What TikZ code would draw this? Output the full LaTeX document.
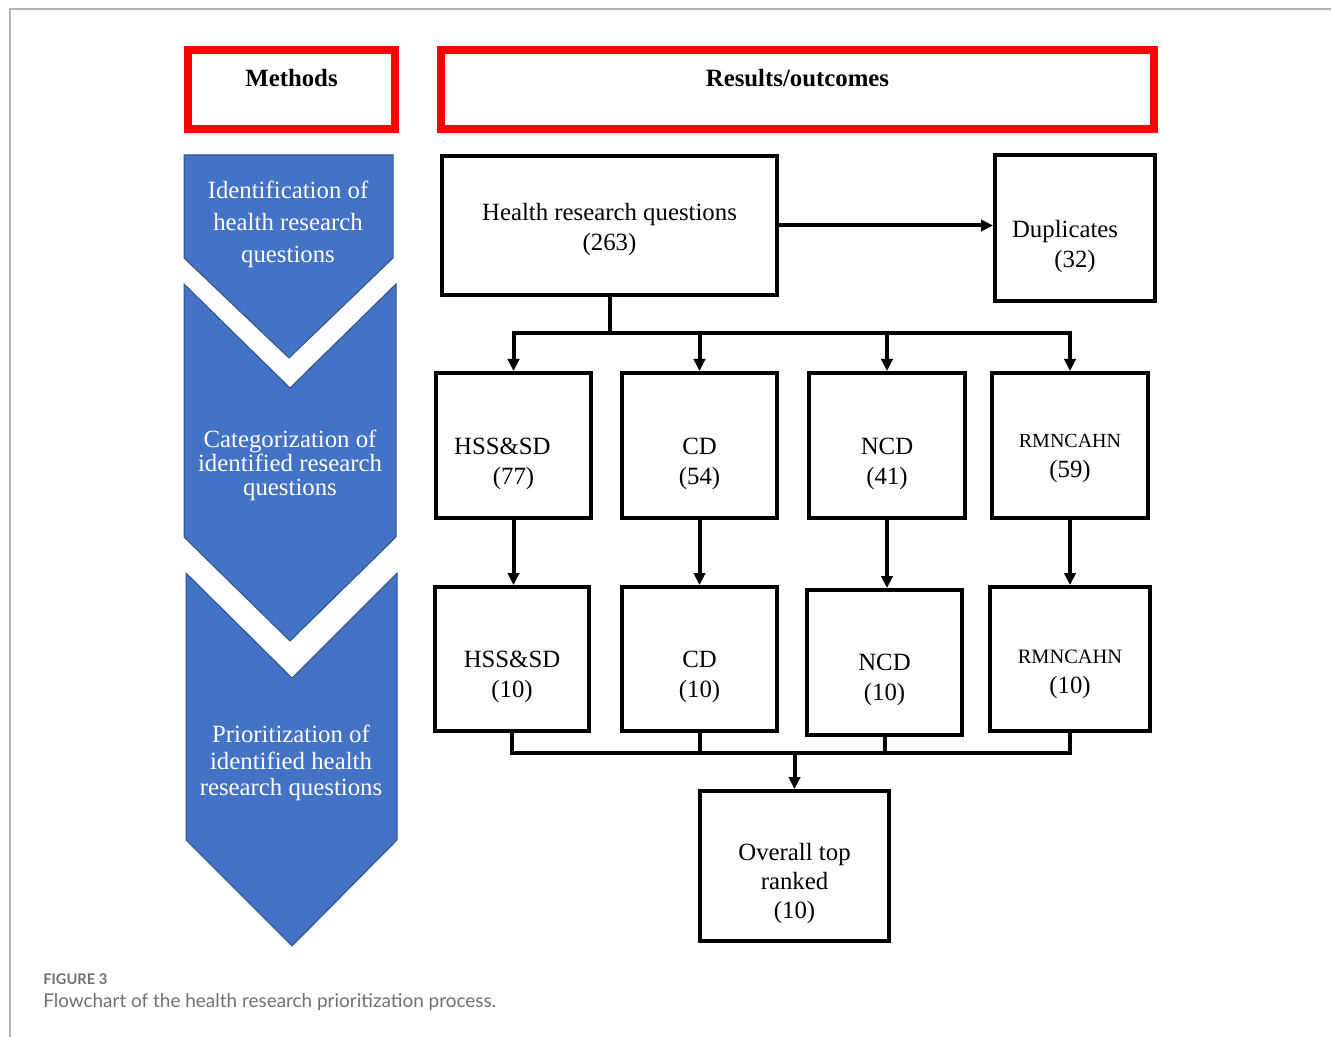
\documentclass[tikz,border=0pt]{standalone}
\usepackage{fontspec}
\setmainfont{Liberation Serif}
\newfontfamily\capfont{Lato}
\usetikzlibrary{arrows.meta}
\newlength\px \setlength\px{0.75pt}
\definecolor{chevblue}{HTML}{4472C4}
\definecolor{chevline}{HTML}{2F528F}
\definecolor{framegray}{HTML}{B3B3B3}
\definecolor{capgray}{HTML}{707070}
\tikzset{
  hdrbox/.style={draw=red, line width=8\px, minimum height=79\px},
  hdrtxt/.style={font=\bfseries\fontsize{18.6pt}{22.5pt}\selectfont, yshift=11.5\px},
  qbox/.style={draw, line width=4\px, minimum width=155\px, minimum height=145\px},
  qtxt/.style={align=center, font=\fontsize{18.6pt}{22.5pt}\selectfont, yshift=-18\px},
  stage/.style={fill=chevblue, draw=chevline, line width=1\px},
  stagetxt/.style={align=center, text=white},
  link/.style={line width=4\px},
  arr/.style={link, -{Triangle[length=9pt,width=8.5pt]}}
}
\begin{document}
\begin{tikzpicture}[x=0.75pt, y=-0.75pt]
\useasboundingbox (0,0) rectangle (1331,1037);
\draw[framegray, line width=2\px] (10,1037) -- (10,9) -- (1331,9);

\node[hdrbox, minimum width=207\px, label={[hdrtxt]center:Methods}] (methods) at (291.5,89.5) {};
\node[hdrbox, minimum width=713\px, label={[hdrtxt]center:Results/outcomes}] (results) at (797.5,89.5) {};

\draw[stage] (184,155) -- (393,155) -- (393,258) -- (289,358) -- (184,258) -- cycle;
\draw[stage] (184,284) -- (290,388) -- (396,284) -- (396,537) -- (290,641) -- (184,537) -- cycle;
\draw[stage] (186,573) -- (292,678) -- (397,573) -- (397,840) -- (292,946) -- (186,840) -- cycle;
\node[stagetxt, font=\fontsize{18.6pt}{24pt}\selectfont] (stage1) at (288,224) {Identification of\\health research\\questions};
\node[stagetxt, font=\fontsize{18.6pt}{18pt}\selectfont] (stage2) at (290,465) {Categorization of\\identified research\\questions};
\node[stagetxt, font=\fontsize{18.6pt}{20pt}\selectfont] (stage3) at (291,763) {Prioritization of\\identified health\\research questions};

\node[qbox, minimum width=335\px, minimum height=139\px, label={[qtxt, yshift=13.5\px]center:Health research questions\\(263)}] (hrq) at (609.5,225.5) {};
\node[qbox, minimum width=160\px, minimum height=146\px, label={[qtxt, yshift=-0.5\px]center:Duplicates\hspace*{0.8em}\\(32)}] (dup) at (1075,228) {};

\node[qbox, label={[qtxt]center:HSS\&SD\hspace*{0.9em}\\(77)}] (c1) at (513.5,445.5) {};
\node[qbox, label={[qtxt]center:CD\\(54)}] (c2) at (699.5,445.5) {};
\node[qbox, minimum width=156\px, label={[qtxt]center:NCD\\(41)}] (c3) at (887,445.5) {};
\node[qbox, minimum width=156\px, label={[qtxt, yshift=4.5\px]center:{\fontsize{15pt}{18pt}\selectfont RMNCAHN}\\(59)}] (c4) at (1070,445.5) {};

\node[qbox, minimum width=154\px, minimum height=144\px, label={[qtxt]center:HSS\&SD\\(10)}] (t1) at (512,659) {};
\node[qbox, minimum height=144\px, label={[qtxt]center:CD\\(10)}] (t2) at (699.5,659) {};
\node[qbox, label={[qtxt, yshift=0.5\px]center:NCD\\(10)}] (t3) at (884.5,662.5) {};
\node[qbox, minimum width=160\px, minimum height=144\px, label={[qtxt, yshift=3\px]center:{\fontsize{15.3pt}{18pt}\selectfont RMNCAHN}\\(10)}] (t4) at (1070,659) {};

\node[qbox, minimum width=189\px, minimum height=150\px, label={[qtxt, font=\fontsize{18.6pt}{21.75pt}\selectfont]center:Overall top\\ranked\\(10)}] (top) at (794.5,866) {};

\coordinate (busA) at (609.5,333);
\coordinate (busB) at (794.5,753);
\draw[arr] (hrq.east) -- (hrq.east -| dup.west);
\foreach \c in {c1,c2,c3,c4}
  \draw[arr] (hrq.south) -- (busA) -| (\c.north);
\foreach \i in {1,...,4}
  \draw[arr] (c\i.south) -- (c\i.south |- t\i.north);
\foreach \t in {t1,t2,t3,t4}
  \draw[link] (\t.south) |- (busB);
\draw[arr] (busB) -- (top.north);

\node[anchor=base west, inner sep=0pt, text=capgray, font=\capfont\bfseries\fontsize{11pt}{13pt}\selectfont] (fignum) at (43,984) {FIGURE 3};
\node[anchor=base west, inner sep=0pt, text=capgray, font=\capfont\fontsize{14.2pt}{16pt}\selectfont] (figcap) at (43,1007) {Flowchart of the health research prioritization process.};
\end{tikzpicture}
\end{document}
